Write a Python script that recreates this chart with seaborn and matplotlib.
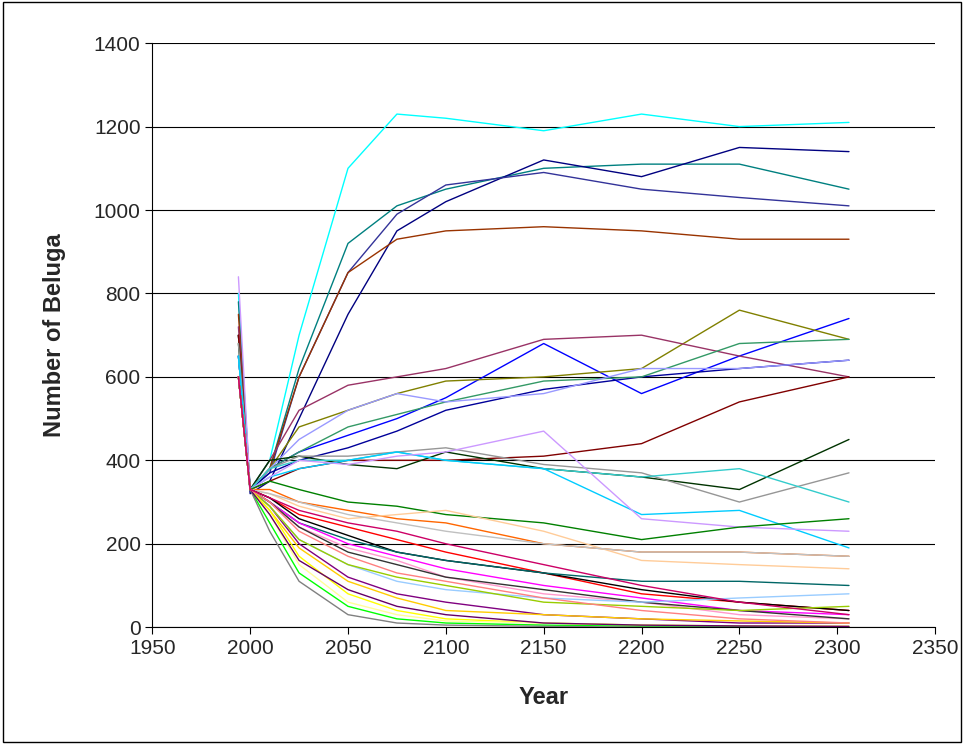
import pandas as pd
import matplotlib
matplotlib.use("Agg")
import matplotlib.pyplot as plt
import seaborn as sns

years = [1994, 2000, 2010, 2025, 2050, 2075, 2100, 2150, 2200, 2250, 2306]

# approximate trajectories (one list per run)
runs = {
    "cyan":        ([800, 330, 400, 700, 1100, 1230, 1220, 1190, 1230, 1200, 1210], "#00FFFF"),
    "teal":        ([780, 330, 380, 620, 920, 1010, 1050, 1100, 1110, 1110, 1050], "#008080"),
    "navy":        ([700, 320, 350, 500, 750, 950, 1020, 1120, 1080, 1150, 1140], "#000080"),
    "slate":       ([700, 330, 370, 600, 850, 990, 1060, 1090, 1050, 1030, 1010], "#333399"),
    "brown":       ([750, 330, 380, 600, 850, 930, 950, 960, 950, 930, 930], "#993300"),
    "blue":        ([650, 330, 380, 420, 460, 500, 550, 680, 560, 650, 740], "#0000FF"),
    "olive":       ([700, 330, 380, 480, 520, 560, 590, 600, 620, 760, 690], "#808000"),
    "plum":        ([720, 330, 400, 520, 580, 600, 620, 690, 700, 650, 600], "#993366"),
    "darkred":     ([700, 330, 350, 380, 400, 400, 400, 410, 440, 540, 600], "#800000"),
    "darkblue":    ([650, 330, 370, 400, 430, 470, 520, 570, 600, 620, 640], "#000099"),
    "seagreen":    ([650, 330, 380, 420, 480, 510, 540, 590, 600, 680, 690], "#339966"),
    "lavender":    ([650, 330, 380, 450, 520, 560, 540, 560, 620, 620, 640], "#9999FF"),
    "darkgreen":   ([680, 330, 400, 410, 390, 380, 420, 380, 360, 330, 450], "#003300"),
    "gray":        ([680, 330, 380, 410, 410, 420, 430, 390, 370, 300, 370], "#969696"),
    "teal2":       ([650, 330, 380, 400, 400, 420, 400, 380, 360, 380, 300], "#33CCCC"),
    "cyan2":       ([650, 330, 360, 380, 400, 420, 400, 380, 270, 280, 190], "#00CCFF"),
    "lightpurple": ([840, 330, 360, 400, 390, 410, 420, 470, 260, 240, 230], "#CC99FF"),
    "green2":      ([600, 330, 350, 330, 300, 290, 270, 250, 210, 240, 260], "#008000"),
    "orange":      ([600, 330, 330, 300, 280, 260, 250, 200, 180, 180, 170], "#FF6600"),
    "peach":       ([600, 330, 320, 290, 260, 270, 280, 230, 160, 150, 140], "#FFCC99"),
    "silver":      ([600, 330, 320, 300, 270, 250, 230, 200, 180, 180, 170], "#C0C0C0"),
    "red":         ([600, 330, 310, 270, 240, 210, 180, 130, 80, 60, 40], "#FF0000"),
    "black":       ([600, 330, 310, 260, 220, 180, 160, 130, 90, 60, 40], "#000000"),
    "darkteal":    ([600, 330, 300, 250, 210, 180, 160, 130, 110, 110, 100], "#006666"),
    "magenta":     ([600, 330, 300, 250, 200, 170, 140, 100, 70, 40, 30], "#FF00FF"),
    "pink":        ([600, 330, 300, 240, 190, 160, 120, 80, 60, 30, 20], "#FF99CC"),
    "dslate":      ([600, 330, 300, 240, 180, 150, 120, 90, 60, 40, 20], "#333333"),
    "purple":      ([600, 330, 290, 200, 120, 80, 60, 30, 20, 10, 10], "#800080"),
    "skyblue":     ([600, 330, 290, 210, 150, 110, 90, 70, 60, 70, 80], "#99CCFF"),
    "lightgreen":  ([600, 330, 290, 210, 150, 120, 100, 60, 50, 40, 50], "#99CC00"),
    "gold":        ([600, 330, 280, 190, 110, 70, 40, 30, 20, 15, 10], "#FFCC00"),
    "yellow":      ([600, 330, 280, 170, 80, 40, 20, 10, 5, 3, 2], "#FFFF00"),
    "lightyellow": ([600, 330, 270, 150, 60, 30, 15, 10, 5, 2, 1], "#FFFF99"),
    "lime":        ([600, 330, 250, 130, 50, 20, 10, 5, 2, 1, 0], "#00FF00"),
    "gray2":       ([600, 330, 230, 110, 30, 10, 5, 2, 0, 0, 0], "#808080"),
    "indigo":      ([600, 330, 270, 160, 90, 50, 30, 10, 5, 3, 2], "#660066"),
    "coral":       ([600, 330, 300, 230, 170, 130, 110, 70, 40, 20, 10], "#FF8080"),
    "rose":        ([600, 330, 310, 280, 250, 230, 200, 150, 100, 60, 30], "#CC0066"),
}

rows = []
for name, (vals, col) in runs.items():
    for y, v in zip(years, vals):
        rows.append({"run": name, "Year": y, "Beluga": v})
df = pd.DataFrame(rows)
palette = {name: col for name, (vals, col) in runs.items()}

sns.set_style("white")
plt.rcParams['font.family'] = ['Liberation Sans', 'DejaVu Sans']

fig = plt.figure(figsize=(9.64, 7.44), dpi=100)
ax = fig.add_axes([0.158, 0.157, 0.812, 0.785])
sns.lineplot(data=df, x="Year", y="Beluga", hue="run", palette=palette,
             legend=False, linewidth=1, ax=ax)

ax.set_xlim(1950, 2350)
ax.set_ylim(0, 1400)
ax.set_xticks(range(1950, 2351, 50))
ax.set_yticks(range(0, 1401, 200))
ax.yaxis.grid(True, color="black", linewidth=0.8)
ax.set_axisbelow(True)
for s in ["top", "right"]:
    ax.spines[s].set_visible(False)
for s in ["left", "bottom"]:
    ax.spines[s].set_color("black")
ax.tick_params(axis="both", direction="out", length=5, color="black",
               labelsize=15, left=True, bottom=True)
ax.set_xlabel("Year", fontsize=17, fontweight="bold", labelpad=20)
ax.set_ylabel("Number of Beluga", fontsize=17, fontweight="bold", labelpad=20)

fig.patches.append(plt.Rectangle((0.003, 0.003), 0.994, 0.994, transform=fig.transFigure,
                                 fill=False, edgecolor="black", linewidth=1))
fig.savefig("out.png", dpi=100)
